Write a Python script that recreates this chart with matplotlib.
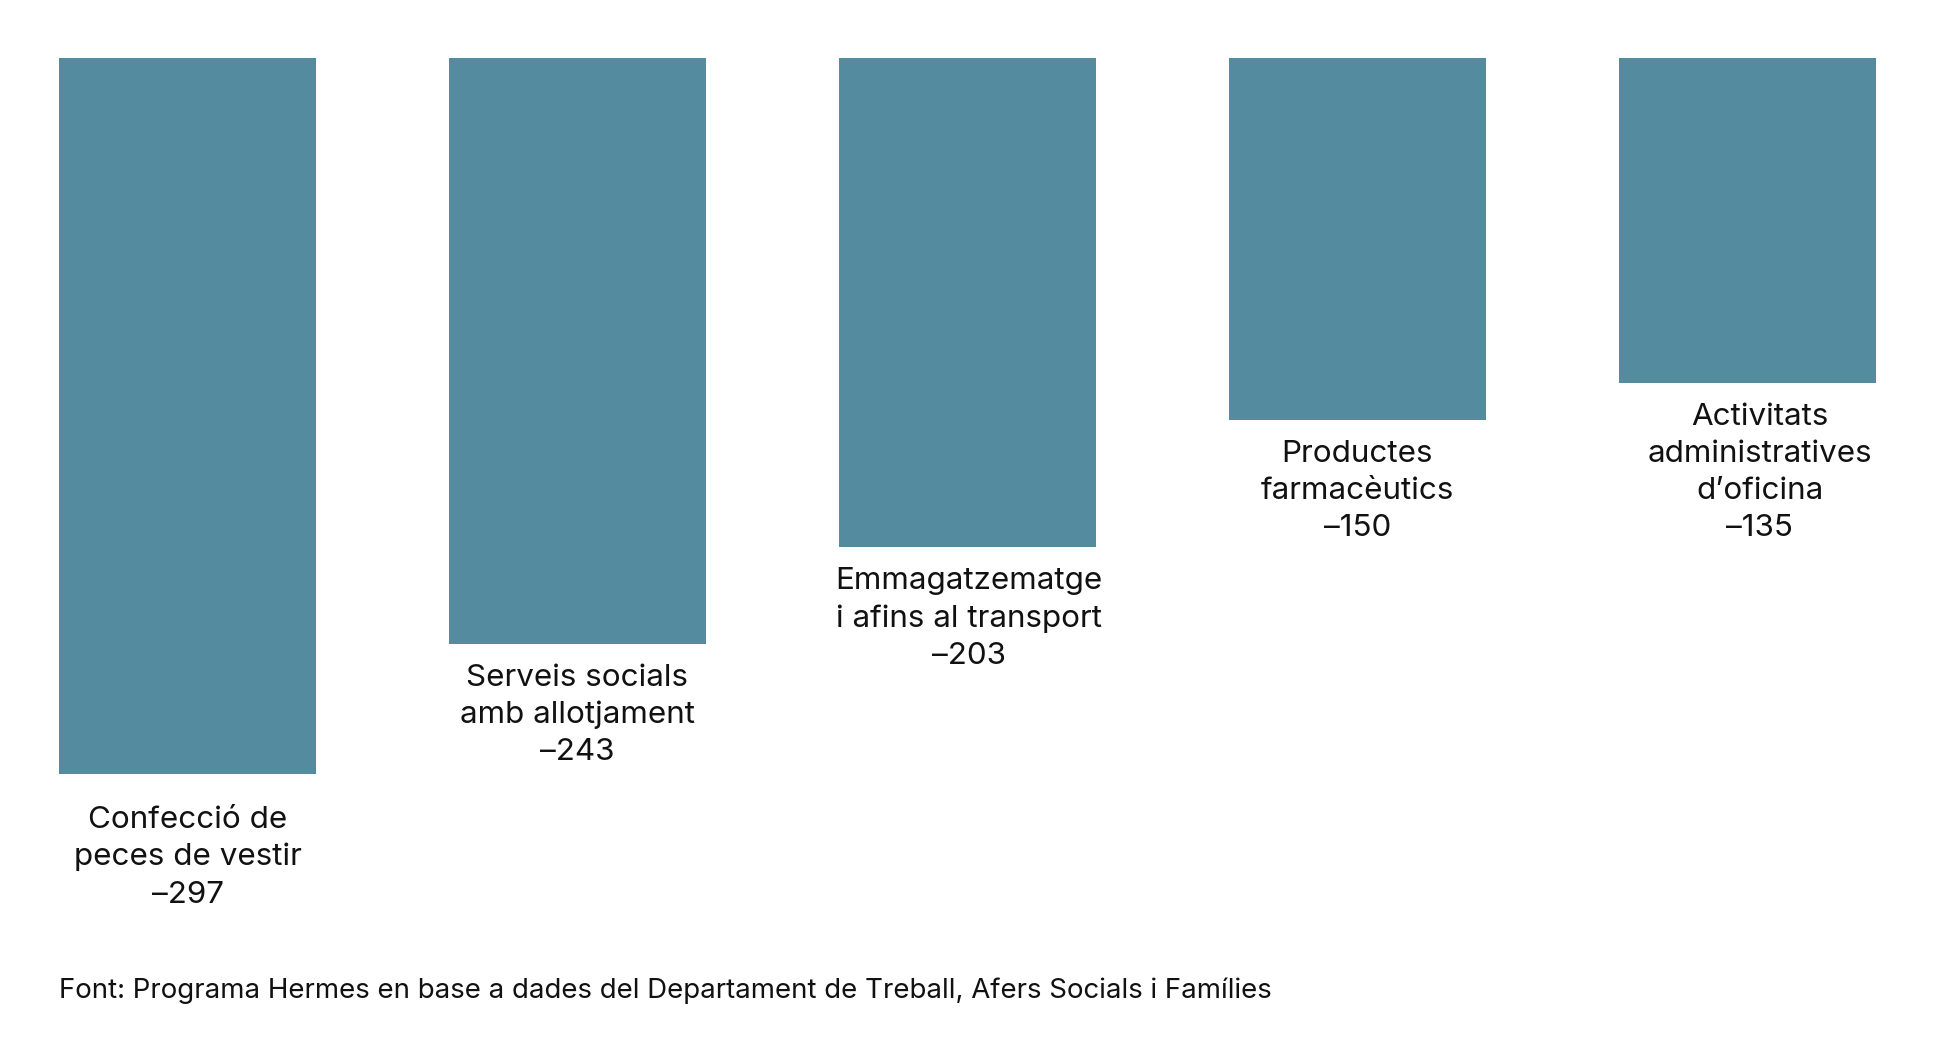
import matplotlib
matplotlib.use("Agg")
import matplotlib.pyplot as plt

categories = [
    "Confecció de\npeces de vestir",
    "Serveis socials\namb allotjament",
    "Emmagatzematge\ni afins al transport",
    "Productes\nfarmacèutics",
    "Activitats\nadministratives\nd\u2019oficina",
]
values = [-297, -243, -203, -150, -135]
source = "Font: Programa Hermes en base a dades del Departament de Treball, Afers Socials i Famílies"

BAR_COLOR = "#548B9F"
FONT = ["Inter", "DejaVu Sans"]
# small label nudges (pixels) to mimic the reference layout
LABEL_DX = [0, 0, 1, 0, 12]
LABEL_DY = [-32, -20, -20, -20, -20]

W, H, DPI = 1937, 1063, 100
fig = plt.figure(figsize=(W / DPI, H / DPI), dpi=DPI)
fig.patch.set_facecolor("white")
ax = fig.add_axes([0, 0, 1, 1])

# pixel geometry -> data limits
spacing_px = 390.0
center0_px = 187.5
top_px = 58.0
px_per_unit = 2.41
ax.set_xlim(-center0_px / spacing_px, (W - center0_px) / spacing_px)
ax.set_ylim(-(H - top_px) / px_per_unit, top_px / px_per_unit)

x = list(range(len(values)))
ax.bar(x, values, width=257 / spacing_px, color=BAR_COLOR, linewidth=0)

for xi, cat, v, dx, dy in zip(x, categories, values, LABEL_DX, LABEL_DY):
    label = f"{cat}\n\u2013{abs(v)}"
    ax.annotate(label, xy=(xi, v), xytext=(dx, dy), textcoords="offset pixels",
                ha="center", va="top", fontsize=22.6, family=FONT,
                color="#111111", linespacing=1.41)

ax.axis("off")

fig.text(59 / W, 1 - 998 / H, source, ha="left", va="baseline",
         fontsize=19.9, family=FONT, color="#111111")

fig.savefig("out.png", dpi=DPI, facecolor="white")
